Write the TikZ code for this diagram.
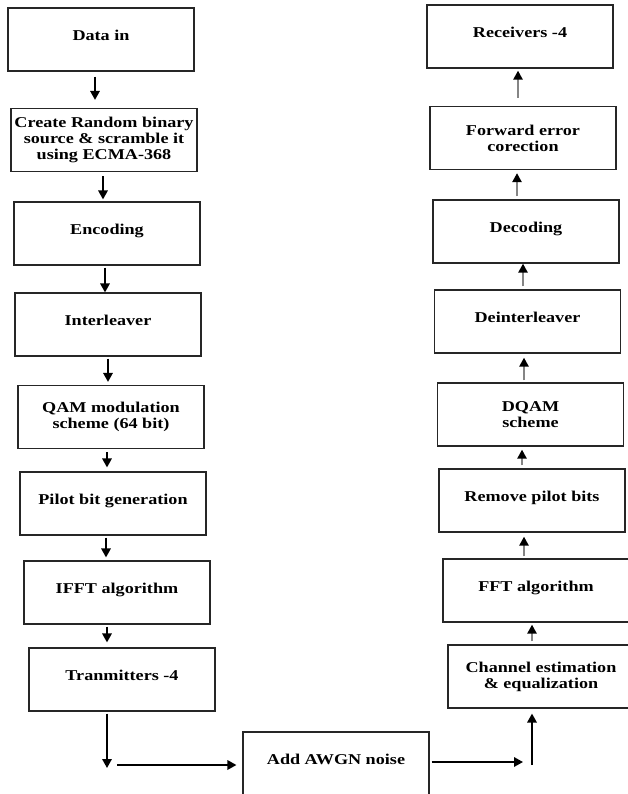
\documentclass[tikz,border=0pt]{standalone}
\usepackage{fontspec}
\setmainfont{Liberation Serif}[FakeStretch=1.21]
\usetikzlibrary{arrows.meta}
\begin{document}
\begin{tikzpicture}[x=1pt, y=-1pt,
    blk/.style={draw=black!85, line width=1.2pt, minimum width=186pt, minimum height=63pt, inner sep=0pt, align=center, font=\fontsize{15}{16}\selectfont\bfseries},
    one/.style={text height=32.5pt, text depth=30.5pt},
    dn/.style={-{Triangle[length=9pt,width=9.5pt]}, line width=1.7pt},
    up/.style={-{Triangle[length=9pt,width=9pt,color=black]}, line width=2.8pt, draw=black!48}]
\useasboundingbox (0,0) rectangle (628,794);
\node[blk,one] (din) at (101,39.5) {Data in};
\node[blk] (src) at (104,140) {Create Random binary\\source \& scramble it\\using ECMA-368};
\node[blk,one] (enc) at (107,233.5) {Encoding};
\node[blk,one] (intl) at (108,324.5) {Interleaver};
\node[blk] (qam) at (111,417) {QAM modulation\\scheme (64 bit)};
\node[blk,one] (pil) at (113,503.5) {Pilot bit generation};
\node[blk,one] (ifft) at (117,592.5) {IFFT algorithm};
\node[blk,one] (tx) at (122,679.5) {Tranmitters -4};
\node[blk,one] (awgn) at (336,763.5) {Add AWGN noise};
\node[blk,one] (rcv) at (520,36.5) {Receivers -4};
\node[blk] (fec) at (523,138) {Forward error\\corection};
\node[blk,one] (dec) at (526,231.5) {Decoding};
\node[blk,one] (dint) at (527.5,321.5) {Deinterleaver};
\node[blk] (dqam) at (530.5,414.5) {DQAM\\scheme};
\node[blk,one] (rem) at (532,500.5) {Remove pilot bits};
\node[blk,one] (fft) at (536,590.5) {FFT algorithm};
\node[blk] (chan) at (541,676.5) {Channel estimation\\\& equalization};

\draw[dn] ([xshift=-6pt,yshift=-5pt]din.south) -- ([xshift=-9pt,yshift=8pt]src.north);
\draw[dn] ([xshift=-1pt,yshift=-4pt]src.south) -- ([xshift=-4pt,yshift=2pt]enc.north);
\draw[dn] ([xshift=-2pt,yshift=-2pt]enc.south) -- ([xshift=-3pt]intl.north);
\draw[dn] ([yshift=-2pt]intl.south) -- ([xshift=-3pt,yshift=3pt]qam.north);
\draw[dn] ([xshift=-4pt,yshift=-3pt]qam.south) -- ([xshift=-6pt,yshift=4pt]pil.north);
\draw[dn] ([xshift=-7pt,yshift=-2pt]pil.south) -- ([xshift=-11pt,yshift=3pt]ifft.north);
\draw[dn] ([xshift=-10pt,yshift=-2pt]ifft.south) -- ([xshift=-15pt,yshift=5pt]tx.north);
\coordinate (txend) at (107,768);
\draw[dn] ([xshift=-15pt,yshift=-2pt]tx.south) -- (txend);
\draw[dn] ([xshift=10pt,yshift=3pt]txend) -- ([xshift=-6pt,yshift=-1.5pt]awgn.west);
\coordinate (chbase) at (532,765);
\draw[dn] ([xshift=2pt,yshift=1.5pt]awgn.east) -- ([xshift=-9pt,yshift=3pt]chbase);
\draw[dn] (chbase) -- ([xshift=-9pt,yshift=-5pt]chan.south);

\draw[up] ([xshift=-5pt,yshift=8pt]fec.north) -- ([xshift=-2pt,yshift=-2pt]rcv.south);
\draw[up] ([xshift=-9pt,yshift=3pt]dec.north) -- ([xshift=-6pt,yshift=-3pt]fec.south);
\draw[up] ([xshift=-4.5pt,yshift=3pt]dint.north) -- ([xshift=-3pt]dec.south);
\draw[up] ([xshift=-6.5pt,yshift=2pt]dqam.north) -- ([xshift=-3.5pt,yshift=-4pt]dint.south);
\draw[up] ([xshift=-10pt,yshift=3pt]rem.north) -- ([xshift=-8.5pt,yshift=-3pt]dqam.south);
\draw[up] ([xshift=-12pt,yshift=2pt]fft.north) -- ([xshift=-8pt,yshift=-4pt]rem.south);
\draw[up] ([xshift=-9pt,yshift=3pt]chan.north) -- ([xshift=-4pt,yshift=-2pt]fft.south);
\end{tikzpicture}
\end{document}
